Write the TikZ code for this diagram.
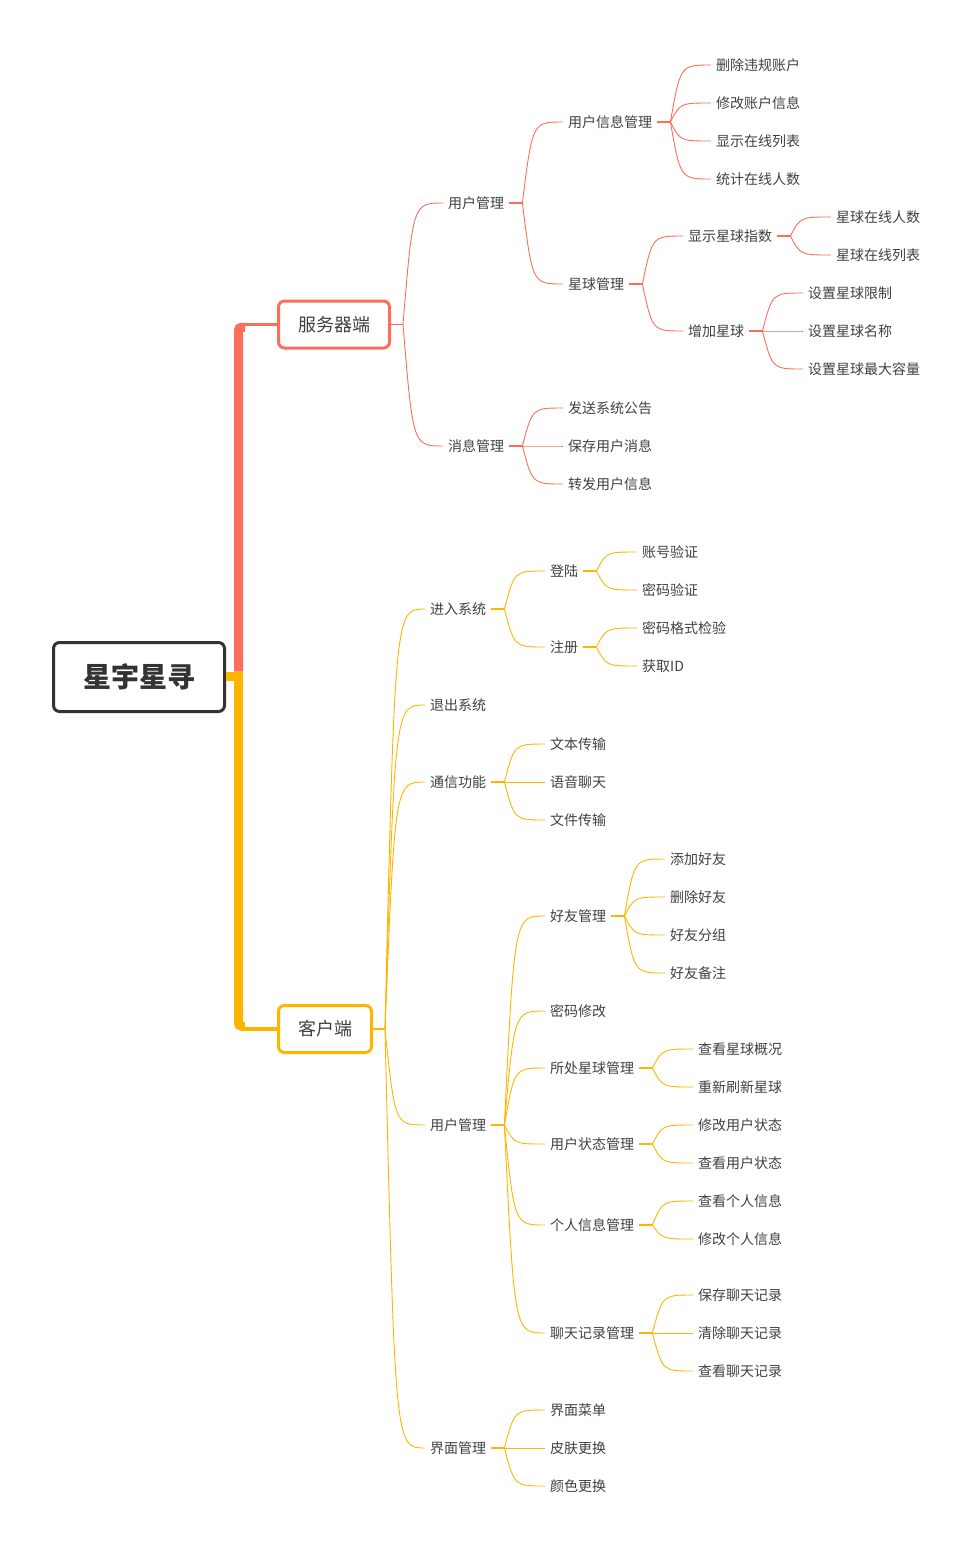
\documentclass[tikz,border=0pt]{standalone}
\usepackage{fontspec}
\setmainfont{Noto Sans CJK SC}
\usetikzlibrary{positioning,calc}
\definecolor{srvred}{RGB}{250,110,90}
\definecolor{cliyel}{RGB}{255,180,0}
\definecolor{txtgray}{RGB}{64,64,64}
\definecolor{rootgray}{RGB}{51,51,51}
\tikzset{
  rootbox/.style={draw=rootgray, line width=3pt, rounded corners=6pt, minimum width=171pt,
                  minimum height=69pt, font=\fontsize{28}{30}\selectfont\bfseries, text=rootgray},
  topbox/.style={draw=#1, line width=3pt, fill=white, rounded corners=6pt, minimum height=47pt,
                 inner xsep=0pt, font=\fontsize{18}{20}\selectfont, text=txtgray},
  lbl/.style={anchor=west, inner xsep=5pt, inner ysep=2pt, font=\fontsize{14}{16}\selectfont, text=txtgray},
  trunk/.style={line width=9pt, rounded corners=3pt, #1},
  thin/.style={line width=3.5pt, #1},
  stub/.style={line width=2pt, #1},
  brc/.style={line width=0.9pt, #1},
}

\begin{document}
\begin{tikzpicture}[x=1pt, y=-1pt]
  \useasboundingbox (0,0) rectangle (976,1551);

  % root and the two main topics
  \node[rootbox] (root) at (139,677) {星宇星寻};
  \node[topbox=srvred, minimum width=111pt] (sv) at (334,324.5) {服务器端};
  \node[topbox=cliyel, minimum width=93pt] (cl) at (325,1029) {客户端};

  \coordinate (jn) at (238.5,676);
  \coordinate (jy) at (243,676);
  \coordinate (jr) at (238.5,671.5);
  \coordinate (sj) at (245,327.25);
  \coordinate (cj) at (245,1026.25);
  \draw[trunk=srvred] (jr) |- (sj);
  \draw[thin=srvred] (sj |- sv.west) -- (sv.west);
  \draw[trunk=cliyel, rounded corners=0pt] (root.east |- jn) -- (jy);
  \draw[trunk=cliyel] (jn) |- (cj);
  \draw[thin=cliyel] (cj |- cl.west) -- (cl.west);

  % server side
  \node[lbl] (um) at (443,203) {用户管理};
  \node[lbl] (mm) at (443,446) {消息管理};
  \node[lbl] (uim) at (563,122) {用户信息管理};
  \node[lbl] (pm) at (563,284) {星球管理};
  \node[lbl] (ms1) at (563,408) {发送系统公告};
  \node[lbl] (ms2) at (563,446) {保存用户消息};
  \node[lbl] (ms3) at (563,484) {转发用户信息};
  \node[lbl] (ui1) at (711,65) {删除违规账户};
  \node[lbl] (ui2) at (711,103) {修改账户信息};
  \node[lbl] (ui3) at (711,141) {显示在线列表};
  \node[lbl] (ui4) at (711,179) {统计在线人数};
  \node[lbl] (pd) at (683,236) {显示星球指数};
  \node[lbl] (pa) at (683,331) {增加星球};
  \node[lbl] (pd1) at (831,217) {星球在线人数};
  \node[lbl] (pd2) at (831,255) {星球在线列表};
  \node[lbl] (pa1) at (803,293) {设置星球限制};
  \node[lbl] (pa2) at (803,331) {设置星球名称};
  \node[lbl] (pa3) at (803,369) {设置星球最大容量};

  % client side
  \node[lbl] (en) at (425,609) {进入系统};
  \node[lbl] (ex) at (425,705) {退出系统};
  \node[lbl] (co) at (425,782) {通信功能};
  \node[lbl] (cu) at (425,1125) {用户管理};
  \node[lbl] (jm) at (425,1448) {界面管理};
  \node[lbl] (lg) at (545,571) {登陆};
  \node[lbl] (rg) at (545,647) {注册};
  \node[lbl] (co1) at (545,744) {文本传输};
  \node[lbl] (co2) at (545,782) {语音聊天};
  \node[lbl] (co3) at (545,820) {文件传输};
  \node[lbl] (fr) at (545,916) {好友管理};
  \node[lbl] (pw) at (545,1011) {密码修改};
  \node[lbl] (loc) at (545,1068) {所处星球管理};
  \node[lbl] (st) at (545,1144) {用户状态管理};
  \node[lbl] (pi) at (545,1225) {个人信息管理};
  \node[lbl] (ch) at (545,1333) {聊天记录管理};
  \node[lbl] (jm1) at (545,1410) {界面菜单};
  \node[lbl] (jm2) at (545,1448) {皮肤更换};
  \node[lbl] (jm3) at (545,1486) {颜色更换};
  \node[lbl] (lg1) at (637,552) {账号验证};
  \node[lbl] (lg2) at (637,590) {密码验证};
  \node[lbl] (rg1) at (637,628) {密码格式检验};
  \node[lbl] (rg2) at (637,666) {获取ID};
  \node[lbl] (fr1) at (665,859) {添加好友};
  \node[lbl] (fr2) at (665,897) {删除好友};
  \node[lbl] (fr3) at (665,935) {好友分组};
  \node[lbl] (fr4) at (665,973) {好友备注};
  \node[lbl] (loc1) at (693,1049) {查看星球概况};
  \node[lbl] (loc2) at (693,1087) {重新刷新星球};
  \node[lbl] (st1) at (693,1125) {修改用户状态};
  \node[lbl] (st2) at (693,1163) {查看用户状态};
  \node[lbl] (pi1) at (693,1201) {查看个人信息};
  \node[lbl] (pi2) at (693,1239) {修改个人信息};
  \node[lbl] (ch1) at (693,1295) {保存聊天记录};
  \node[lbl] (ch2) at (693,1333) {清除聊天记录};
  \node[lbl] (ch3) at (693,1371) {查看聊天记录};

  % branch points after each parent
  \coordinate (b-sv) at ([xshift=12pt]sv.east);
  \coordinate (b-cl) at ([xshift=12pt]cl.east);
  \foreach \nd in {um,mm,uim,pm,pd,pa,en,co,cu,jm,lg,rg,fr,loc,st,pi,ch}
    \coordinate (b-\nd) at ([xshift=13pt]\nd.east);

  % stubs
  \draw[stub=srvred, line width=1.5pt] (sv.east) -- (b-sv);
  \draw[stub=cliyel, line width=1.5pt] (cl.east) -- (b-cl);
  \foreach \nd in {um,mm,uim,pm,pd,pa}
    \draw[stub=srvred] (\nd.east) -- (b-\nd);
  \foreach \nd in {en,co,cu,jm,lg,rg,fr,loc,st,pi,ch}
    \draw[stub=cliyel] (\nd.east) -- (b-\nd);

  % curved connectors, server side
  \foreach \up/\kids in {sv/{um,mm}, um/{uim,pm}, mm/{ms1,ms2,ms3}, uim/{ui1,ui2,ui3,ui4},
                         pm/{pd,pa}, pd/{pd1,pd2}, pa/{pa1,pa2,pa3}}
    \foreach \nd in \kids
      \draw[brc=srvred] (b-\up) .. controls ($(b-\up |- \nd.west)+(10,0)$) .. (\nd.west);

  % curved connectors, client side
  \foreach \up/\kids in {cl/{en,ex,co,cu,jm}, en/{lg,rg}, lg/{lg1,lg2}, rg/{rg1,rg2},
                         co/{co1,co2,co3}, cu/{fr,pw,loc,st,pi,ch}, fr/{fr1,fr2,fr3,fr4},
                         loc/{loc1,loc2}, st/{st1,st2}, pi/{pi1,pi2}, ch/{ch1,ch2,ch3},
                         jm/{jm1,jm2,jm3}}
    \foreach \nd in \kids
      \draw[brc=cliyel] (b-\up) .. controls ($(b-\up |- \nd.west)+(10,0)$) .. (\nd.west);
\end{tikzpicture}
\end{document}
